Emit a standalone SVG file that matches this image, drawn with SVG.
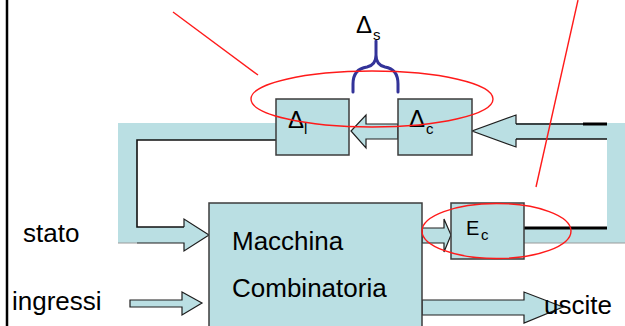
<svg xmlns="http://www.w3.org/2000/svg" width="625" height="326" viewBox="0 0 625 326">
  <style>
    .fill { fill: #badfe3; }
    .box { fill: #badfe3; stroke: #3c3c3c; stroke-width: 1.5; }
    .arrow { fill: #badfe3; stroke: #1e1e1e; stroke-width: 1.2; stroke-linejoin: miter; }
    .edge { fill: none; stroke: #111; stroke-width: 1.6; }
    .thick { fill: none; stroke: #000; stroke-width: 3; }
    .faint { fill: none; stroke: #9a9a9a; stroke-width: 1; }
    .red { fill: none; stroke: #ff1a1a; stroke-width: 1.4; }
    .brace { fill: none; stroke: #333399; stroke-width: 3; stroke-linecap: round; }
    .t { font-family: "Liberation Sans", Arial, sans-serif; fill: #000; }
    .big { font-size: 26px; }
    .sym { font-size: 24px; }
    .sub { font-size: 15px; }
  </style>

  <!-- left page rule -->
  <line x1="7" y1="0" x2="7" y2="326" stroke="#000" stroke-width="2.5"/>

  <g id="connectors">
    <!-- state feedback pipe (left) ending as arrow into the combinational block -->
    <polygon class="fill" points="118,123 276,123 276,140 137,140 137,227 184,227 184,219 209,235 184,251 184,243 118,243"/>
    <polyline class="edge" points="276,140 137,140 137,227 184,227"/>
    <polyline class="arrow" style="fill:none" points="184,227 184,219 209,235 184,251 184,243 137,243"/>
    <line class="faint" x1="118" y1="243" x2="137" y2="243"/>

    <!-- feedback pipe (right) from E_c back into Delta_c -->
    <polygon class="fill" points="472,131 516,115 516,123 625,123 625,243 524,243 524,228 607,228 607,139 516,139 516,147"/>
    <polyline class="arrow" style="fill:none" points="516,124 516,115 472,131 516,147 516,139"/>
    <line class="edge" x1="516" y1="124" x2="583" y2="124"/>
    <line class="thick" x1="583" y1="124" x2="607" y2="124"/>
    <line class="edge" x1="516" y1="139" x2="607" y2="139"/>
    <line class="thick" x1="524" y1="228" x2="607" y2="228"/>
    <line class="faint" x1="524" y1="243" x2="625" y2="243"/>

    <!-- Delta_c to Delta_l -->
    <polygon class="arrow" points="398,124 366,124 366,115 351,131 366,148 366,139 398,139"/>

    <!-- combinational block to E_c -->
    <polygon class="arrow" points="422,228 444,228 444,219 451,235 444,252 444,243 422,243"/>

    <!-- inputs -->
    <polygon class="arrow" points="130,300 182,300 182,292 202,303 182,315 182,307 130,307"/>

    <!-- outputs -->
    <polygon class="arrow" points="422,300 524,300 524,292 563,307 524,323 524,315 422,315"/>
  </g>

  <g id="delta-l">
    <rect class="box" x="276" y="99" width="73" height="56"/>
    <text class="t sym" x="288" y="128">Δ</text>
    <text class="t sub" x="304" y="134">l</text>
  </g>

  <g id="delta-c">
    <rect class="box" x="398" y="99" width="74" height="56"/>
    <text class="t sym" x="409" y="127">Δ</text>
    <text class="t sub" x="426" y="134">c</text>
  </g>

  <g id="e-c">
    <rect class="box" x="451" y="203" width="73" height="56"/>
    <text class="t" font-size="20" x="466" y="235">E</text>
    <text class="t sub" x="481" y="240">c</text>
  </g>

  <g id="macchina">
    <rect class="box" x="209" y="203" width="213" height="130"/>
    <text class="t big" x="232" y="250">Macchina</text>
    <text class="t big" x="232" y="297">Combinatoria</text>
  </g>

  <g id="labels">
    <text class="t big" x="23" y="242">stato</text>
    <text class="t big" x="12" y="310">ingressi</text>
    <text class="t big" x="544" y="314">uscite</text>
  </g>

  <g id="delta-s">
    <path class="brace" d="M353,92 L353,84 Q353,69 367,67 Q376,65 376,55 L376,41 M398,92 L398,84 Q398,69 385,67 Q376,65 376,55"/>
    <text class="t sym" x="356" y="33">Δ</text>
    <text class="t sub" x="373" y="40">s</text>
  </g>

  <g id="highlights">
    <ellipse class="red" cx="372" cy="99" rx="121" ry="28"/>
    <line class="red" x1="173" y1="12" x2="258" y2="75"/>
    <ellipse class="red" cx="496.5" cy="231" rx="74.5" ry="27.5"/>
    <line class="red" x1="578" y1="0" x2="536" y2="187"/>
  </g>
</svg>
